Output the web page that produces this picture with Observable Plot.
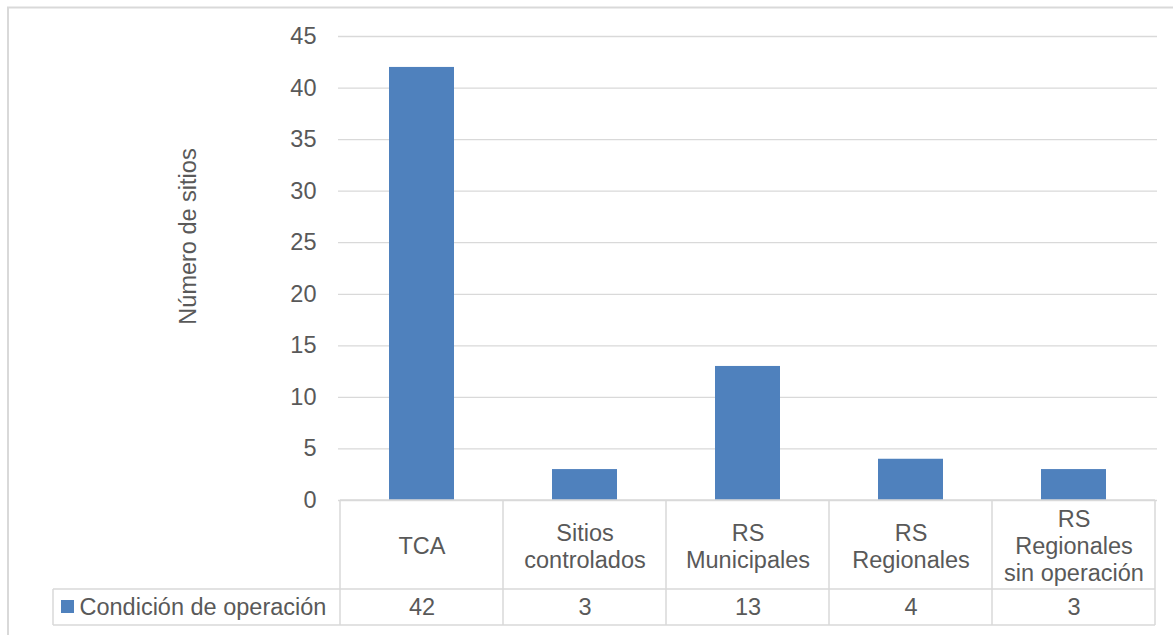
<!DOCTYPE html>
<html>
<head>
<meta charset="utf-8">
<script src="https://cdn.jsdelivr.net/npm/d3@7"></script>
<script src="https://cdn.jsdelivr.net/npm/@observablehq/plot@0.6"></script>
<style>
  html, body { margin: 0; padding: 0; background: #fff; }
  #chart { position: relative; width: 1173px; height: 635px; overflow: hidden; }
  svg { font-family: "Liberation Sans", Arial, sans-serif; }
</style>
</head>
<body>
<div id="chart"></div>
<script>
const categories = ["TCA", "Sitios controlados", "RS Municipales", "RS Regionales", "RS Regionales sin operación"];
const headerLabels = ["TCA", "Sitios\ncontrolados", "RS\nMunicipales", "RS\nRegionales", "RS\nRegionales\nsin operación"];
const values = [42, 3, 13, 4, 3];
const seriesName = "Condición de operación";
const yTicks = [0, 5, 10, 15, 20, 25, 30, 35, 40, 45];
const yLabel = "Número de sitios";

const data = categories.map((c, i) => ({category: c, value: values[i], header: headerLabels[i]}));

const W = 1173, H = 635;
const mTop = 36, mRight = 16, mBottom = 135, mLeft = 338;
const textColor = "#595959";
const lineColor = "#d9d9d9";
const barColor = "#4f81bd";
const fs = 23.5;

const plot = Plot.plot({
  width: W,
  height: H,
  marginTop: mTop,
  marginRight: mRight,
  marginBottom: mBottom,
  marginLeft: mLeft,
  style: {fontFamily: "'Liberation Sans', Arial, sans-serif", background: "transparent"},
  x: {domain: categories, padding: 0, axis: null},
  y: {domain: [0, 45], axis: null},
  marks: [
    Plot.gridY(yTicks, {stroke: lineColor, strokeOpacity: 1, strokeWidth: 1.3}),
    Plot.axisY(yTicks, {tickSize: 0, tickPadding: 22, fontSize: fs, fill: textColor, label: null}),
    Plot.barY(data, {x: "category", y: "value", fill: barColor, insetLeft: 49, insetRight: 49}),
    Plot.text([yLabel], {frameAnchor: "left", rotate: -90, dx: -150, dy: -32, textAnchor: "middle", fontSize: fs, fill: textColor}),
    // data table: header category labels
    Plot.text(data, {x: "category", text: "header", frameAnchor: "bottom", dy: 45, fontSize: fs, fill: textColor, lineHeight: 1.15, lineAnchor: "middle"}),
    // data table: values
    Plot.text(data, {x: "category", text: d => String(d.value), frameAnchor: "bottom", dy: 107, fontSize: fs, fill: textColor, lineAnchor: "middle"}),
    // legend label
    Plot.text([seriesName], {frameAnchor: "bottom-left", dx: 79 - mLeft, dy: 107, textAnchor: "start", lineAnchor: "middle", fontSize: fs, fill: textColor})
  ]
});

document.getElementById("chart").appendChild(plot);

// Table grid lines and legend swatch, positioned via the plot's x scale
const svg = d3.select(plot);
const xs = plot.scale("x");
const bw = xs.bandwidth;
const bounds = categories.map(c => xs.apply(c));
bounds.push(xs.apply(categories[categories.length - 1]) + bw);
const yScale = plot.scale("y");
const y0 = yScale.apply(0);
const rowTop = y0, rowMid = y0 + 89, rowBot = y0 + 125;
const legendLeft = 53;
const g = svg.append("g").attr("stroke", lineColor).attr("stroke-width", 1.5).attr("fill", "none");
// horizontal lines
g.append("line").attr("x1", bounds[0]).attr("x2", bounds[bounds.length - 1]).attr("y1", rowTop).attr("y2", rowTop);
g.append("line").attr("x1", legendLeft).attr("x2", bounds[bounds.length - 1]).attr("y1", rowMid).attr("y2", rowMid);
g.append("line").attr("x1", legendLeft).attr("x2", bounds[bounds.length - 1]).attr("y1", rowBot).attr("y2", rowBot);
// vertical lines
bounds.forEach(b => g.append("line").attr("x1", b).attr("x2", b).attr("y1", rowTop).attr("y2", rowBot));
g.append("line").attr("x1", legendLeft).attr("x2", legendLeft).attr("y1", rowMid).attr("y2", rowBot);
// legend swatch
svg.append("rect").attr("x", 61).attr("y", rowMid + 11).attr("width", 13).attr("height", 13).attr("fill", barColor);
// outer chart border
svg.append("path").attr("d", `M8,${H} L8,7.5 L${W},7.5`).attr("stroke", lineColor).attr("stroke-width", 2).attr("fill", "none");
</script>
</body>
</html>
